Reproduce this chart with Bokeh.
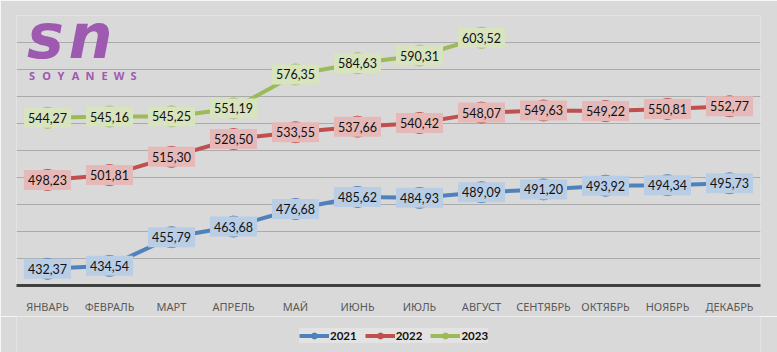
from bokeh.plotting import figure
from bokeh.layouts import column
from bokeh.models import FactorRange, FixedTicker, Legend, LegendItem, Label, ColumnDataSource, Range1d
from bokeh.core.properties import value
from bokeh.embed import file_html
from bokeh.resources import INLINE

months = ["ЯНВАРЬ", "ФЕВРАЛЬ", "МАРТ", "АПРЕЛЬ", "МАЙ", "ИЮНЬ", "ИЮЛЬ",
          "АВГУСТ", "СЕНТЯБРЬ", "ОКТЯБРЬ", "НОЯБРЬ", "ДЕКАБРЬ"]
y2021 = [432.37, 434.54, 455.79, 463.68, 476.68, 485.62, 484.93, 489.09,
         491.20, 493.92, 494.34, 495.73]
y2022 = [498.23, 501.81, 515.30, 528.50, 533.55, 537.66, 540.42, 548.07,
         549.63, 549.22, 550.81, 552.77]
y2023 = [544.27, 545.16, 545.25, 551.19, 576.35, 584.63, 590.31, 603.52]
years = ["2021", "2022", "2023"]
y_ticks = [420, 440, 460, 480, 500, 520, 540, 560, 580, 600, 620]

line_colors = ["#4F81BD", "#C0504D", "#9BBB59"]
label_fills = ["#B9CDE5", "#E6B9B8", "#D7E4BD"]
BG = "#D9D9D9"
LOGO = "#9D5AB0"

p = figure(width=777, height=316, x_range=FactorRange(*months),
           y_range=(y_ticks[0], y_ticks[-1]), output_backend="svg",
           toolbar_location=None, min_border_left=16, min_border_right=17,
           min_border_top=15, min_border_bottom=28)
p.background_fill_color = BG
p.border_fill_color = BG
p.outline_line_color = None

p.xgrid.visible = False
p.yaxis.ticker = FixedTicker(ticks=y_ticks)
p.ygrid.ticker = FixedTicker(ticks=y_ticks)
p.ygrid.grid_line_color = "#ABABAB"
p.ygrid.grid_line_width = 1
p.yaxis.visible = False

p.xaxis.axis_line_color = "#404040"
p.xaxis.axis_line_width = 3
p.xaxis.major_tick_line_color = None
p.xaxis.minor_tick_line_color = None
p.xaxis.major_label_text_color = "#595959"
p.xaxis.major_label_text_font = "Noto Sans"
p.xaxis.major_label_text_font_size = "11px"
p.xaxis.major_label_standoff = 7

series = [y2021, y2022, y2023]
label_sources = []
for name, vals, lc, lf in zip(years, series, line_colors, label_fills):
    xs = months[:len(vals)]
    src = ColumnDataSource(dict(
        x=xs, y=vals,
        t=[f"{v:.2f}".replace(".", ",") for v in vals]))
    p.line("x", "y", source=src, line_color=lc, line_width=4)
    p.scatter("x", "y", source=src, size=21, marker="circle",
              fill_color=lc, line_color=lc)
    label_sources.append((src, lf))

for src, lf in label_sources:
    p.text("x", "y", text="t", source=src, text_align="center",
           text_baseline="middle", text_font=value("Lato"),
           text_font_size="12.5px", text_color="#111111",
           background_fill_color=lf, padding=(4, 5))

# logo
p.add_layout(Label(x=0.17, y=604.5, text="s", text_font="DejaVu Sans",
                   text_font_style="bold italic", text_font_size="62px",
                   text_color=LOGO, text_baseline="alphabetic"))
p.add_layout(Label(x=0.84, y=604.5, text="n", text_font="DejaVu Sans",
                   text_font_style="bold italic", text_font_size="62px",
                   text_color=LOGO, text_baseline="alphabetic"))
for i, ch in enumerate("SOYANEWS"):
    p.add_layout(Label(x=0.25 + i * 0.234, y=575.7, text=ch,
                       text_font="Noto Sans", text_font_style="bold",
                       text_font_size="11px", text_color=LOGO,
                       text_align="center", text_baseline="middle"))

# legend strip
lg = figure(width=777, height=36, x_range=Range1d(0, 1), y_range=Range1d(0, 1),
            output_backend="svg", toolbar_location=None,
            x_axis_location=None, y_axis_location=None,
            min_border=0, min_border_left=0, min_border_right=0,
            min_border_top=0, min_border_bottom=0)
lg.background_fill_color = BG
lg.border_fill_color = BG
lg.outline_line_color = None
lg.grid.visible = False
items = []
for name, lc in zip(years, line_colors):
    r1 = lg.line([5, 6], [5, 6], line_color=lc, line_width=4)
    r2 = lg.scatter([5], [5], size=8, marker="circle", fill_color=lc, line_color=lc)
    items.append(LegendItem(label=name, renderers=[r1, r2]))
legend = Legend(items=items, orientation="horizontal", location=(283, 9))
legend.background_fill_color = "#E3E3E3"
legend.background_fill_alpha = 1
legend.border_line_color = None
legend.label_text_font = "Lato"
legend.label_text_font_style = "bold"
legend.label_text_font_size = "11.5px"
legend.label_text_color = "#111111"
legend.glyph_width = 30
legend.glyph_height = 15
legend.label_height = 15
legend.label_standoff = 1
legend.spacing = 8
legend.padding = 4
legend.margin = 0
lg.add_layout(legend)

layout = column(p, lg, spacing=0)
open("out.html", "w").write(file_html(layout, INLINE))
